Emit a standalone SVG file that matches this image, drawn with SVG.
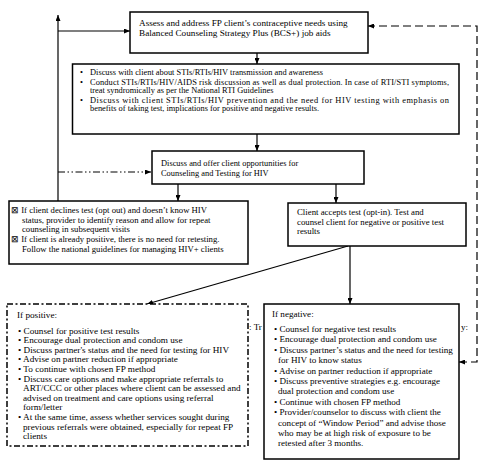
<svg xmlns="http://www.w3.org/2000/svg" width="484" height="471" viewBox="0 0 484 471">
<style>
text{font-family:"Liberation Serif","Times New Roman",serif;fill:#000}
.box{fill:#fff;stroke:#000;stroke-width:1.5}
.c{stroke:#000;stroke-width:1.2;fill:none}
.t1{font-size:9.2px}
.t2{font-size:8.4px}
.t3{font-size:8.4px}
.td{font-size:8.7px}
.ta{font-size:8.8px}
.tp{font-size:9.2px}
.tn{font-size:9.1px}
</style>
<defs>
<marker id="a" markerWidth="6" markerHeight="5" refX="6" refY="2.5" orient="auto-start-reverse" markerUnits="userSpaceOnUse"><path d="M0,0L6,2.5L0,5z" fill="#000"/></marker>
</defs>
<rect width="484" height="471" fill="#fff"/>
<g id="stray">
<text class="tn" x="249" y="330">: Tr</text>
<text class="tn" x="461" y="330">y:</text>
</g>
<g id="connectors">
<path class="c" d="M58,201V15" marker-end="url(#a)"/>
<path class="c" d="M58,31H130" marker-end="url(#a)"/>
<path class="c" d="M58,172H151" stroke-dasharray="7 2.5 1.5 2.5 1.5 2.5" marker-end="url(#a)"/>
<path class="c" d="M257,53V64" marker-end="url(#a)"/>
<path class="c" d="M257,134V151" marker-end="url(#a)"/>
<path class="c" d="M178,184V201" marker-end="url(#a)"/>
<path class="c" d="M336,184V203" marker-end="url(#a)"/>
<path class="c" d="M348,246L147,304" marker-end="url(#a)"/>
<path class="c" d="M350,246V304" marker-end="url(#a)"/>
<path class="c" d="M459,362H477V26H368" stroke-width="1.8" stroke-dasharray="8 4" marker-start="url(#a)" marker-end="url(#a)"/>
</g>
<g id="n1">
<rect class="box" x="130" y="12" width="238" height="41" stroke-width="2"/>
<text class="t1" x="139" y="25.5">Assess and address FP client’s contraceptive needs using</text>
<text class="t1" x="139" y="35.5">Balanced Counseling Strategy Plus (BCS+) job aids</text>
</g>
<g id="n2">
<rect class="box" x="72.5" y="64" width="386.5" height="70" stroke-width="1.8"/>
<text class="t2" x="80" y="75">•</text>
<text class="t2" x="90" y="75">Discuss with client about STIs/RTIs/HIV transmission and awareness</text>
<text class="t2" x="80" y="84.5">•</text>
<text class="t2" x="90" y="84.5" textLength="359" lengthAdjust="spacing">Conduct STIs/RTIs/HIV/AIDS risk discussion as well as dual protection. In case of RTI/STI symptoms,</text>
<text class="t2" x="90" y="93">treat syndromically as per the National RTI Guidelines</text>
<text class="t2" x="80" y="102.5">•</text>
<text class="t2" x="90" y="102.5" textLength="359" lengthAdjust="spacing">Discuss with client STIs/RTIs/HIV prevention and the need for HIV testing with emphasis on</text>
<text class="t2" x="90" y="111">benefits of taking test, implications for positive and negative results.</text>
</g>
<g id="n3">
<rect class="box" x="152" y="151" width="212" height="33"/>
<text class="t3" x="161" y="166">Discuss and offer client opportunities for</text>
<text class="t3" x="161" y="176">Counseling and Testing for HIV</text>
</g>
<g id="n4">
<rect class="box" x="9" y="201" width="239" height="63"/>
<text class="td" x="11" y="213">⊠ If client declines test (opt out) and doesn’t know HIV</text>
<text class="td" x="22" y="222.5">status, provider to identify reason and allow for repeat</text>
<text class="td" x="22" y="232">counseling in subsequent visits</text>
<text class="td" x="11" y="242">⊠ If client is already positive, there is no need for retesting.</text>
<text class="td" x="22" y="251.5">Follow the national guidelines for managing HIV+ clients</text>
</g>
<g id="n5">
<rect class="box" x="288" y="203" width="178" height="43"/>
<text class="ta" x="297" y="215">Client accepts test (opt-in). Test and</text>
<text class="ta" x="297" y="224.5">counsel client for negative or positive test</text>
<text class="ta" x="297" y="234">results</text>
</g>
<g id="n6">
<rect x="7" y="304" width="241" height="142" fill="#fff" stroke="#000" stroke-width="1.5" stroke-dasharray="6 2.5 2 2.5"/>
<text class="tp" x="17" y="318">If positive:</text>
<text class="tp" x="18" y="333.5">• Counsel for positive test results</text>
<text class="tp" x="18" y="343.1">• Encourage dual protection and condom use</text>
<text class="tp" x="18" y="352.7">• Discuss partner's status and the need for testing for HIV</text>
<text class="tp" x="18" y="362.3">• Advise on partner reduction if appropriate</text>
<text class="tp" x="18" y="371.9">• To continue with chosen FP method</text>
<text class="tp" x="18" y="381.5">• Discuss care options and make appropriate referrals to</text>
<text class="tp" x="23" y="391.1">ART/CCC or other places where client can be assessed and</text>
<text class="tp" x="23" y="400.7">advised on treatment and care options using referral</text>
<text class="tp" x="23" y="410.3">form/letter</text>
<text class="tp" x="18" y="419.9">• At the same time, assess whether services sought during</text>
<text class="tp" x="23" y="429.5">previous referrals were obtained, especially for repeat FP</text>
<text class="tp" x="23" y="439.1">clients</text>
</g>
<g id="n7">
<rect class="box" x="264" y="304" width="195" height="155"/>
<text class="tn" x="272" y="317">If negative:</text>
<text class="tn" x="274" y="332">• Counsel for negative test results</text>
<text class="tn" x="274" y="342.4">• Encourage dual protection and condom use</text>
<text class="tn" x="274" y="352.8">• Discuss partner’s status and the need for testing</text>
<text class="tn" x="278" y="363.2">for HIV to know status</text>
<text class="tn" x="274" y="373.6">• Advise on partner reduction if appropriate</text>
<text class="tn" x="274" y="384">• Discuss preventive strategies e.g. encourage</text>
<text class="tn" x="278" y="394.4">dual protection and condom use</text>
<text class="tn" x="274" y="404.8">• Continue with chosen FP method</text>
<text class="tn" x="274" y="415.2">• Provider/counselor to discuss with client the</text>
<text class="tn" x="278" y="425.6">concept of “Window Period” and advise those</text>
<text class="tn" x="278" y="436">who may be at high risk of exposure to be</text>
<text class="tn" x="278" y="446.4">retested after 3 months.</text>
</g>
</svg>
